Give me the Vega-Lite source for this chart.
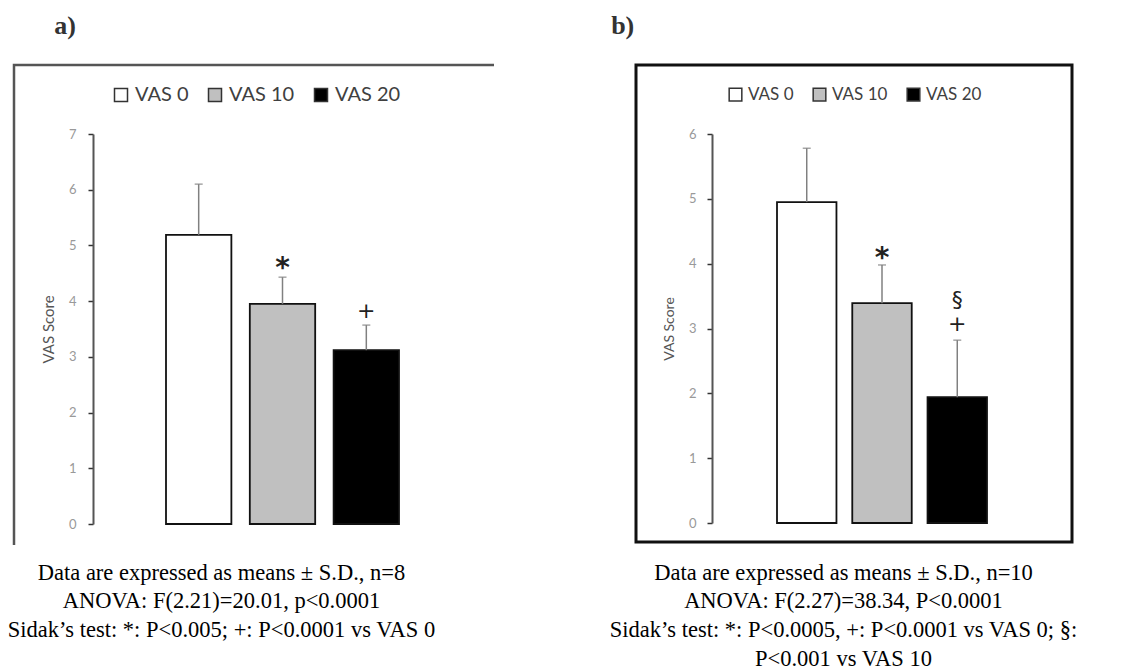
{
  "$schema": "https://vega.github.io/schema/vega-lite/v6.json",
  "background": "white",
  "padding": {"left": 5, "top": 11, "right": 5, "bottom": 5},
  "bounds": "flush",
  "spacing": 142,
  "config": {"font": "Lato"},
  "resolve": {"scale": {"fill": "independent", "x": "independent", "y": "independent"}, "legend": {"fill": "independent"}},
  "hconcat": [
    {
      "width": 480,
      "height": 480,
      "title": {"text": "a)", "anchor": "start", "dx": 47, "offset": 26, "font": "Liberation Serif", "fontSize": 26, "fontWeight": "bold", "color": "#333333"},
      "view": {"stroke": "#555555", "strokeWidth": 2.5, "strokeDash": [480, 960, 480, 1]},
      "data": {"values": [
        {"group": "VAS 0", "mean": 5.19, "hi": 6.10, "sig": "", "sig2": ""},
        {"group": "VAS 10", "mean": 3.95, "hi": 4.43, "sig": "*", "sig2": ""},
        {"group": "VAS 20", "mean": 3.12, "hi": 3.57, "sig": "+", "sig2": ""}
      ]},
      "encoding": {
        "x": {"field": "group", "type": "nominal", "sort": null,
          "scale": {"range": [152, 385], "paddingInner": 0.22, "paddingOuter": 0},
          "axis": {"labels": false, "ticks": false, "domain": false,
            "title": ["Data are expressed as means ± S.D., n=8", "ANOVA: F(2.21)=20.01, p<0.0001", "Sidak’s test: *: P<0.005; +: P<0.0001 vs VAS 0"],
            "titleFont": "Liberation Serif", "titleFontSize": 22.5, "titleFontWeight": "normal", "titleColor": "#000000",
            "titleLineHeight": 28.5, "titleBaseline": "top", "titlePadding": 16, "titleX": 207}}
      },
      "layer": [
        {
          "mark": {"type": "bar", "stroke": "#111111", "strokeWidth": 1.8},
          "encoding": {
            "y": {"field": "mean", "type": "quantitative",
              "scale": {"domain": [0, 7], "range": [459, 69], "nice": false},
              "axis": {"title": "VAS Score", "offset": -79, "grid": false,
                "values": [0, 0.5, 1, 1.5, 2, 2.5, 3, 3.5, 4, 4.5, 5, 5.5, 6, 6.5, 7],
                "labelExpr": "datum.value % 1 ? '' : format(datum.value, 'd')",
                "domainColor": "#555555", "domainWidth": 2, "tickColor": "#333333", "tickSize": 5, "tickWidth": 1.5,
                "labelColor": "#999999", "labelFont": "Lato", "labelFontSize": 13, "labelPadding": 12,
                "titleFont": "Lato", "titleFontSize": 15, "titleFontWeight": "normal", "titleColor": "#555555", "titlePadding": 12}},
            "fill": {"field": "group", "type": "nominal", "sort": null,
              "scale": {"domain": ["VAS 0", "VAS 10", "VAS 20"], "range": ["#ffffff", "#c0c0c0", "#000000"]},
              "legend": {"orient": "none", "legendX": 97, "legendY": 20, "direction": "horizontal", "title": null,
                "symbolType": "square", "symbolSize": 169, "symbolStrokeColor": "#333333", "symbolStrokeWidth": 1.5,
                "labelFont": "Lato", "labelFontSize": 20, "labelColor": "#404040", "columnPadding": 16, "labelOffset": 4}}
          }
        },
        {
          "mark": {"type": "rule", "color": "#808080", "strokeWidth": 1.5},
          "encoding": {"y": {"field": "hi", "type": "quantitative"}, "y2": {"field": "mean"}}
        },
        {
          "mark": {"type": "tick", "color": "#808080", "thickness": 1.5, "size": 8},
          "encoding": {"y": {"field": "hi", "type": "quantitative"}}
        },
        {
          "transform": [{"filter": "datum.sig == '*'"}],
          "mark": {"type": "text", "font": "DejaVu Sans", "fontSize": 28, "fontWeight": "bold", "color": "#222222", "baseline": "alphabetic", "dy": 0},
          "encoding": {"y": {"field": "hi", "type": "quantitative"}, "text": {"field": "sig"}}
        },
        {
          "transform": [{"filter": "datum.sig == '+'"}],
          "mark": {"type": "text", "font": "DejaVu Sans", "fontSize": 22, "color": "#222222", "baseline": "alphabetic", "dy": -7},
          "encoding": {"y": {"field": "hi", "type": "quantitative"}, "text": {"field": "sig"}}
        }
      ]
    },
    {
      "width": 436,
      "height": 477,
      "title": {"text": "b)", "anchor": "start", "dx": 2, "offset": 26, "font": "Liberation Serif", "fontSize": 26, "fontWeight": "bold", "color": "#333333"},
      "view": {"stroke": "#111111", "strokeWidth": 3},
      "data": {"values": [
        {"group": "VAS 0", "mean": 4.95, "hi": 5.78, "sig": "", "sig2": ""},
        {"group": "VAS 10", "mean": 3.39, "hi": 3.98, "sig": "*", "sig2": ""},
        {"group": "VAS 20", "mean": 1.94, "hi": 2.82, "sig": "+", "sig2": "§"}
      ]},
      "encoding": {
        "x": {"field": "group", "type": "nominal", "sort": null,
          "scale": {"range": [141, 351], "paddingInner": 0.21, "paddingOuter": 0},
          "axis": {"labels": false, "ticks": false, "domain": false,
            "title": ["Data are expressed as means ± S.D., n=10", "ANOVA: F(2.27)=38.34, P<0.0001", "Sidak’s test: *: P<0.0005, +: P<0.0001 vs VAS 0; §:", "P<0.001 vs VAS 10"],
            "titleFont": "Liberation Serif", "titleFontSize": 22.5, "titleFontWeight": "normal", "titleColor": "#000000",
            "titleLineHeight": 28.8, "titleBaseline": "top", "titlePadding": 19, "titleX": 207}}
      },
      "layer": [
        {
          "mark": {"type": "bar", "stroke": "#111111", "strokeWidth": 1.8},
          "encoding": {
            "y": {"field": "mean", "type": "quantitative",
              "scale": {"domain": [0, 6], "range": [458, 69], "nice": false},
              "axis": {"title": "VAS Score", "offset": -76, "grid": false,
                "values": [0, 0.5, 1, 1.5, 2, 2.5, 3, 3.5, 4, 4.5, 5, 5.5, 6],
                "labelExpr": "datum.value % 1 ? '' : format(datum.value, 'd')",
                "domainColor": "#555555", "domainWidth": 2, "tickColor": "#333333", "tickSize": 5, "tickWidth": 1.5,
                "labelColor": "#999999", "labelFont": "Lato", "labelFontSize": 13, "labelPadding": 11,
                "titleFont": "Lato", "titleFontSize": 14, "titleFontWeight": "normal", "titleColor": "#555555", "titlePadding": 12}},
            "fill": {"field": "group", "type": "nominal", "sort": null,
              "scale": {"domain": ["VAS 0", "VAS 10", "VAS 20"], "range": ["#ffffff", "#c0c0c0", "#000000"]},
              "legend": {"orient": "none", "legendX": 91, "legendY": 21, "direction": "horizontal", "title": null,
                "symbolType": "square", "symbolSize": 160, "symbolStrokeColor": "#333333", "symbolStrokeWidth": 1.5,
                "labelFont": "Lato", "labelFontSize": 17, "labelColor": "#404040", "columnPadding": 16, "labelOffset": 4}}
          }
        },
        {
          "mark": {"type": "rule", "color": "#808080", "strokeWidth": 1.5},
          "encoding": {"y": {"field": "hi", "type": "quantitative"}, "y2": {"field": "mean"}}
        },
        {
          "mark": {"type": "tick", "color": "#808080", "thickness": 1.5, "size": 8},
          "encoding": {"y": {"field": "hi", "type": "quantitative"}}
        },
        {
          "transform": [{"filter": "datum.sig == '*'"}],
          "mark": {"type": "text", "font": "DejaVu Sans", "fontSize": 28, "fontWeight": "bold", "color": "#222222", "baseline": "alphabetic", "dy": 2},
          "encoding": {"y": {"field": "hi", "type": "quantitative"}, "text": {"field": "sig"}}
        },
        {
          "transform": [{"filter": "datum.sig == '+'"}],
          "mark": {"type": "text", "font": "DejaVu Sans", "fontSize": 22, "color": "#222222", "baseline": "alphabetic", "dy": -9},
          "encoding": {"y": {"field": "hi", "type": "quantitative"}, "text": {"field": "sig"}}
        },
        {
          "transform": [{"filter": "datum.sig2 == '§'"}],
          "mark": {"type": "text", "font": "DejaVu Sans", "fontSize": 22, "color": "#222222", "baseline": "alphabetic", "dy": -33},
          "encoding": {"y": {"field": "hi", "type": "quantitative"}, "text": {"field": "sig2"}}
        }
      ]
    }
  ]
}
